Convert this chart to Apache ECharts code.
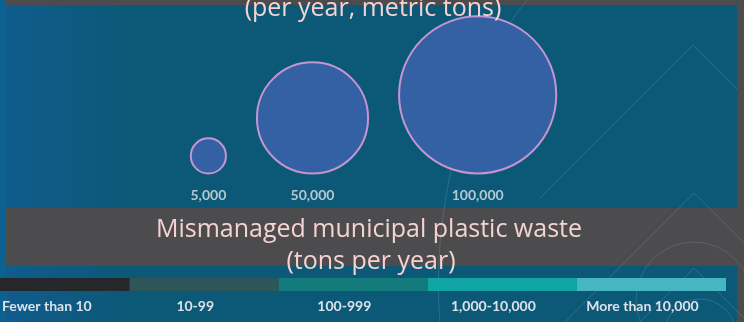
<!DOCTYPE html>
<html>
<head>
<meta charset="utf-8">
<script src="https://cdn.jsdelivr.net/npm/echarts@6/dist/echarts.min.js"></script>
<style>
html,body{margin:0;padding:0;background:#0c5877;}
#c{width:744px;height:322px;}
</style>
</head>
<body>
<div id="c"></div>
<script>
// ---- data ----
var bubbleValues = [5000, 50000, 100000];
var bubbleLabels = ['5,000', '50,000', '100,000'];
var legendCategories = ['Fewer than 10', '10-99', '100-999', '1,000-10,000', 'More than 10,000'];
var legendColors = ['#26272a', '#2e5558', '#137b7c', '#10a4a4', '#46b7c1'];
var legendValues = [1, 1, 1, 1, 1];
var titleTop = '(per year, metric tons)';
var titleBottom1 = 'Mismanaged municipal plastic waste';
var titleBottom2 = '(tons per year)';

// ---- layout helpers (bubble area proportional to value) ----
var SCALE = 0.497;      // diameter px per sqrt(ton)
var GAP = 31;           // px gap between bubbles
var START_X = 190.8;    // left edge of first bubble
var BASE_Y = 148.5;     // y-axis value of bubble bottoms (axis 0..322)
var diam = bubbleValues.map(function (v) { return SCALE * Math.sqrt(v); });
var cursor = START_X;
var bubbleData = [], labelData = [];
for (var i = 0; i < bubbleValues.length; i++) {
  var cx = cursor + diam[i] / 2;
  bubbleData.push({ value: [cx, BASE_Y + diam[i] / 2, bubbleValues[i]] });
  labelData.push({ value: [cx, BASE_Y - 22], name: bubbleLabels[i] });
  cursor += diam[i] + GAP;
}

var chart = echarts.init(document.getElementById('c'), null, { renderer: 'canvas' });
var faint = 'rgba(185,190,200,0.25)';
var legendSeries = legendCategories.map(function (name, i) {
  return {
    type: 'bar', name: name, xAxisIndex: 1, yAxisIndex: 1, stack: 'legend',
    barWidth: '100%', data: [legendValues[i]],
    itemStyle: { color: legendColors[i] },
    label: { show: true, position: 'bottom', distance: 8, offset: [i === 0 ? -18 : -9, 0],
      formatter: name, color: '#dce3e8', fontFamily: 'Lato', fontWeight: 'bold', fontSize: 14 },
    silent: true
  };
});

var option = {
  backgroundColor: '#0c5877',
  animation: false,
  graphic: [
    { type: 'rect', z: -10, shape: { x: 0, y: 0, width: 130, height: 322 },
      style: { fill: new echarts.graphic.LinearGradient(0, 0, 1, 0, [
        { offset: 0, color: 'rgba(20,95,160,0.55)' },
        { offset: 1, color: 'rgba(20,95,160,0)' }]) } },
    { type: 'rect', z: -9, shape: { x: 0, y: 0, width: 6, height: 322 }, style: { fill: '#0b6190' } },
    { type: 'rect', z: -8, shape: { x: 6, y: 0, width: 738, height: 5 }, style: { fill: '#4c4b4d' } },
    { type: 'rect', z: -8, shape: { x: 737, y: 0, width: 7, height: 322 }, style: { fill: '#4c4b4d' } },
    { type: 'rect', z: -8, shape: { x: 6, y: 208, width: 731, height: 58 }, style: { fill: '#4c4b4d' } },
    // faint decorative lines
    { type: 'polyline', z: -5, shape: { points: [[540, 198], [693, 45], [737, 89]] }, style: { stroke: faint, lineWidth: 0.8, fill: null } },
    { type: 'polyline', z: -5, shape: { points: [[565, 322], [694, 193], [744, 243]] }, style: { stroke: faint, lineWidth: 0.8, fill: null } },
    { type: 'polyline', z: -5, shape: { points: [[640, 322], [694, 268], [744, 318]] }, style: { stroke: faint, lineWidth: 0.8, fill: null } },
    { type: 'circle', z: -5, shape: { cx: 694, cy: 300, r: 58 }, style: { stroke: faint, lineWidth: 0.8, fill: null } },
    { type: 'circle', z: -5, shape: { cx: 700, cy: 335, r: 36 }, style: { stroke: faint, lineWidth: 0.8, fill: null } },
    { type: 'bezierCurve', z: -5, shape: { x1: 527, y1: 0, cpx1: 470, cpy1: 70, x2: 440, y2: 322, cpx2: 430, cpy2: 200 }, style: { stroke: faint, lineWidth: 0.8, fill: null } },
    // titles
    { type: 'text', z: 10, style: { text: titleTop, x: 373, y: 9, align: 'center', verticalAlign: 'middle',
        font: '25px "Open Sans"', fill: '#f5d3d3' } },
    { type: 'text', z: 10, style: { text: titleBottom1, x: 369, y: 230, align: 'center', verticalAlign: 'middle',
        font: '25px "Open Sans"', fill: '#f5d3d3' } },
    { type: 'text', z: 10, style: { text: titleBottom2, x: 371, y: 262, align: 'center', verticalAlign: 'middle',
        font: '25px "Open Sans"', fill: '#f5d3d3' } }
  ],
  grid: [
    { left: 0, right: 0, top: 0, bottom: 0 },
    { left: 0, width: 726, top: 278, height: 13 }
  ],
  xAxis: [
    { gridIndex: 0, type: 'value', min: 0, max: 744, show: false },
    { gridIndex: 1, type: 'value', min: 0.13, max: 5, show: false }
  ],
  yAxis: [
    { gridIndex: 0, type: 'value', min: 0, max: 322, show: false },
    { gridIndex: 1, type: 'category', data: ['legend'], show: false }
  ],
  series: [
    { type: 'scatter', xAxisIndex: 0, yAxisIndex: 0, data: bubbleData,
      symbolSize: function (val) { return SCALE * Math.sqrt(val[2]); },
      itemStyle: { color: '#3461a3', borderColor: '#c595d0', borderWidth: 2, opacity: 1 },
      silent: true },
    { type: 'scatter', xAxisIndex: 0, yAxisIndex: 0, data: labelData, symbolSize: 0,
      label: { show: true, position: 'inside', formatter: function (p) { return p.name; },
        color: '#dce3e8', fontFamily: 'Lato', fontWeight: 'bold', fontSize: 14 },
      silent: true }
  ].concat(legendSeries)
};
chart.setOption(option);
</script>
</body>
</html>
